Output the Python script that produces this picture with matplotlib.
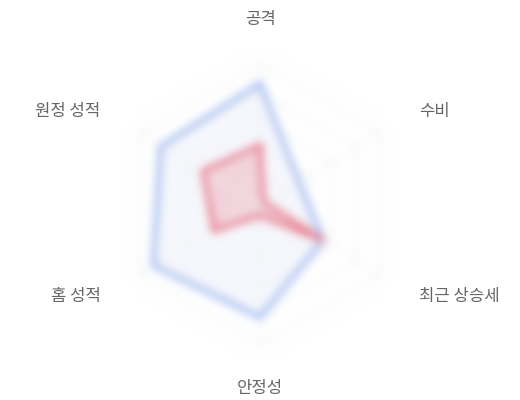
import numpy as np
import matplotlib
matplotlib.use('Agg')
import matplotlib.pyplot as plt

plt.rcParams['font.family'] = ['Noto Sans CJK KR', 'DejaVu Sans']

categories = ['공격', '수비', '최근 상승세', '안정성', '홈 성적', '원정 성적']
team_blue  = [86, 32, 52, 81, 88, 82]
team_red   = [42, 3, 52, 8, 38, 47]
levels     = [20, 40, 60, 80, 100]

#-------------------------------------------------------------------------
# helper: gaussian blur used as agg filter
#-------------------------------------------------------------------------

def blur_filter( sigma ):
  def _filter( img, dpi ):
    s   = sigma * dpi / 100.0
    pad = int( 3 * s ) + 1
    a   = np.pad( img, ( (pad, pad), (pad, pad), (0, 0) ) )
    # premultiply so transparent black doesn't darken edges
    rgb = a[..., :3] * a[..., 3:4]
    al  = a[..., 3:4]
    x   = np.arange( -pad, pad + 1 )
    k   = np.exp( -0.5 * ( x / s ) ** 2 )
    k  /= k.sum()
    def conv( arr ):
      out = np.zeros_like( arr )
      for i, w in enumerate( k ):
        out += w * np.roll( arr, i - pad, axis=0 )
      res = np.zeros_like( out )
      for i, w in enumerate( k ):
        res += w * np.roll( out, i - pad, axis=1 )
      return res
    rgb = conv( rgb )
    al  = conv( al )
    with np.errstate( invalid='ignore', divide='ignore' ):
      rgb = np.where( al > 1e-6, rgb / al, 0 )
    return np.concatenate( [ rgb, al ], axis=-1 ), -pad, -pad
  return _filter

#-------------------------------------------------------------------------
# main
#-------------------------------------------------------------------------

fig = plt.figure( figsize=(5.2, 4.0), dpi=100 )
ax  = fig.add_axes( [0.5 - 140/520, 0.49 - 140/400, 280/520, 280/400], polar=True )
ax.set_theta_offset( np.pi / 2 )
ax.set_theta_direction( -1 )
ax.set_ylim( 0, 100 )

n      = len( categories )
angles = np.linspace( 0, 2 * np.pi, n, endpoint=False )
closed = np.concatenate( [ angles, angles[:1] ] )

# hexagon grid
ax.grid( False )
ax.spines['polar'].set_visible( False )
ax.set_xticks( [] )
ax.set_yticks( [] )
for lv in levels:
  ax.plot( closed, [lv] * (n + 1), color='#eeeeee', lw=1 )
for a in angles:
  ax.plot( [a, a], [0, levels[-1]], color='#f0f0f0', lw=1 )

vals = team_blue + team_blue[:1]
ax.fill( closed, vals, color='#6f95ea', alpha=0.06, lw=0 )
ax.plot( closed, vals, color='#8fadee', lw=3 )

vals = team_red + team_red[:1]
ax.fill( closed, vals, color='#e8677a', alpha=0.25, lw=0 )
ax.plot( closed, vals, color='#e8798a', lw=3.5 )

ax.set_agg_filter( blur_filter( 4.5 ) )

# category labels (sharp, drawn by the figure so the blur skips them)
lab_r = 131.5
for a, name in zip( angles, categories ):
  s = np.sin( a )
  ha = 'center' if abs( s ) < 0.1 else ( 'left' if s > 0 else 'right' )
  fig.text( a, lab_r, name, ha=ha, va='center', fontsize=12, color='#666666',
            transform=ax.transData )

fig.savefig( 'out.png', dpi=100 )
